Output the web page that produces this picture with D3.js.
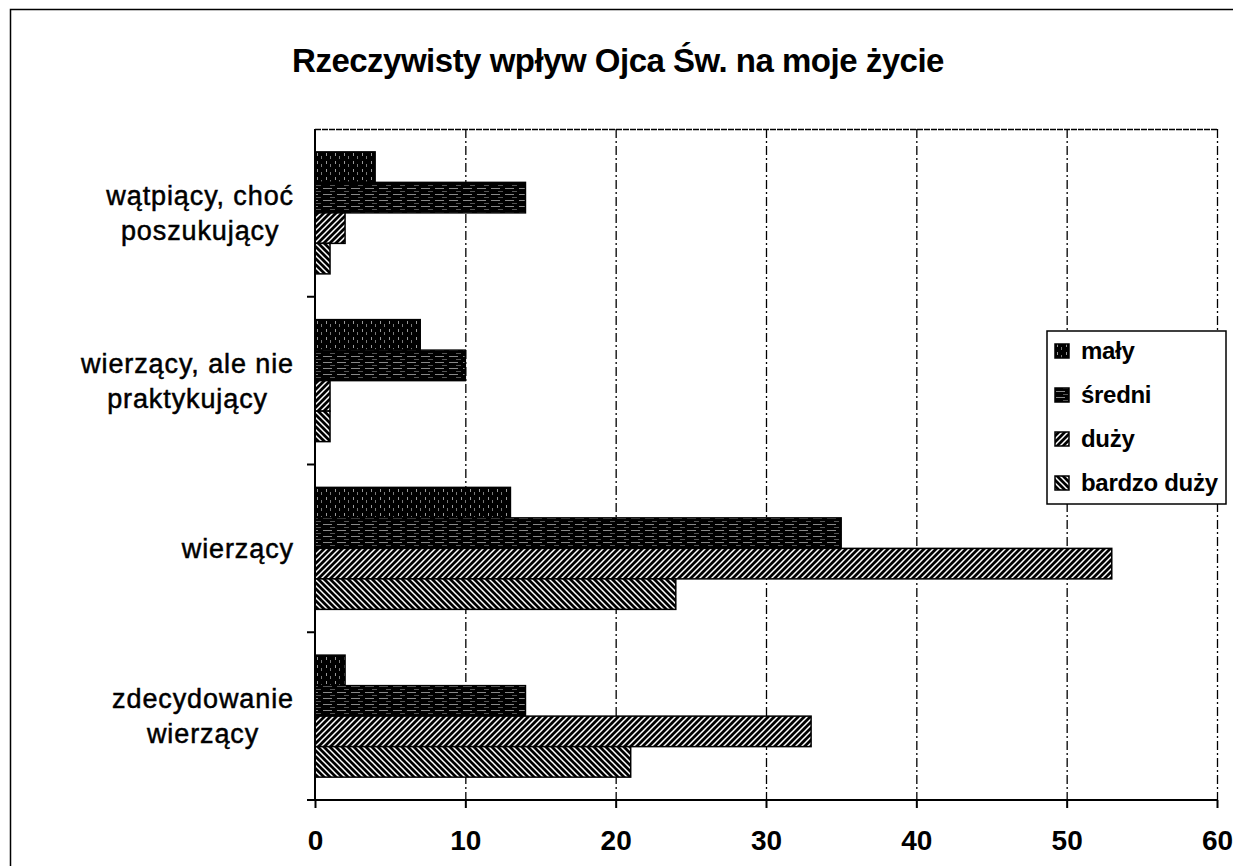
<!DOCTYPE html>
<html>
<head>
<meta charset="utf-8">
<script src="https://cdn.jsdelivr.net/npm/d3@7"></script>
<style>
  html, body { margin: 0; background: #fff; overflow: hidden; }
  svg { display: block; }
  text { font-family: "Liberation Sans", Arial, sans-serif; fill: #000; }
</style>
</head>
<body>
<svg id="chart" width="1233" height="866"></svg>
<script>
// data
var categories = ["wątpiący, choć poszukujący", "wierzący, ale nie praktykujący", "wierzący", "zdecydowanie wierzący"];
var categoryLines = [["wątpiący, choć", "poszukujący"], ["wierzący, ale nie", "praktykujący"], ["wierzący"], ["zdecydowanie", "wierzący"]];
var seriesNames = ["mały", "średni", "duży", "bardzo duży"];
var maly = [4, 7, 13, 2];
var sredni = [14, 10, 35, 14];
var duzy = [2, 1, 53, 33];
var bardzoDuzy = [1, 1, 24, 21];
var xTicks = [0, 10, 20, 30, 40, 50, 60];
var title = "Rzeczywisty wpływ Ojca Św. na moje życie";

var allSeries = [maly, sredni, duzy, bardzoDuzy];
var rows = [];
categories.forEach(function(c, i) {
  seriesNames.forEach(function(s, j) {
    rows.push({cat: c, series: s, idx: j, value: allSeries[j][i]});
  });
});

var svg = d3.select("#chart");
var margin = {left: 315, right: 1217, top: 129, bottom: 800};

// outer chart border: only top and left edges are inside the picture
svg.append("path")
  .attr("d", "M10.5,866V9.5H1233")
  .attr("fill", "none").attr("stroke", "#000").attr("stroke-width", 1.5);

// patterns
var defs = svg.append("defs");

var pMaly = defs.append("pattern").attr("id", "p-maly")
  .attr("patternUnits", "userSpaceOnUse").attr("width", 9).attr("height", 8);
pMaly.append("rect").attr("width", 9).attr("height", 8).attr("fill", "#000");
pMaly.append("rect").attr("x", 2).attr("y", 1).attr("width", 1).attr("height", 3).attr("fill", "#999");
pMaly.append("rect").attr("x", 6).attr("y", 4).attr("width", 1).attr("height", 3).attr("fill", "#777");

var pSredni = defs.append("pattern").attr("id", "p-sredni")
  .attr("patternUnits", "userSpaceOnUse").attr("width", 14).attr("height", 6);
pSredni.append("rect").attr("width", 14).attr("height", 6).attr("fill", "#000");
pSredni.append("rect").attr("x", 1).attr("y", 2).attr("width", 9).attr("height", 1).attr("fill", "#888");
pSredni.append("rect").attr("x", 8).attr("y", 5).attr("width", 5).attr("height", 1).attr("fill", "#555");

var pDuzy = defs.append("pattern").attr("id", "p-duzy")
  .attr("patternUnits", "userSpaceOnUse").attr("width", 6).attr("height", 6);
pDuzy.append("rect").attr("width", 6).attr("height", 6).attr("fill", "#000");
pDuzy.append("path").attr("d", "M-1,7 L7,-1 M-4,4 L4,-4 M2,10 L10,2")
  .attr("stroke", "#fff").attr("stroke-width", 1.5);

var pBardzo = defs.append("pattern").attr("id", "p-bardzo")
  .attr("patternUnits", "userSpaceOnUse").attr("width", 6).attr("height", 6);
pBardzo.append("rect").attr("width", 6).attr("height", 6).attr("fill", "#000");
pBardzo.append("path").attr("d", "M-1,-1 L7,7 M-4,2 L4,10 M2,-4 L10,4")
  .attr("stroke", "#fff").attr("stroke-width", 1.5);

var fills = ["url(#p-maly)", "url(#p-sredni)", "url(#p-duzy)", "url(#p-bardzo)"];

// scales
var x = d3.scaleLinear().domain([0, 60]).range([margin.left, margin.right]);
var y0 = d3.scaleBand().domain(categories).range([margin.top, margin.bottom])
  .paddingInner(1.5 / 5.5).paddingOuter(0.75 / 5.5);
var y1 = d3.scaleBand().domain(seriesNames).range([0, y0.bandwidth()]);
var band = (margin.bottom - margin.top) / categories.length;

// gridlines
var grid = svg.append("g");
xTicks.slice(1).forEach(function(t) {
  grid.append("line")
    .attr("x1", x(t) + 0.5).attr("x2", x(t) + 0.5)
    .attr("y1", margin.top).attr("y2", margin.bottom)
    .attr("stroke", "#000").attr("stroke-width", 1.3)
    .attr("stroke-dasharray", "9,3,2,3");
});
grid.append("line")
  .attr("x1", margin.left).attr("x2", margin.right)
  .attr("y1", margin.top + 0.5).attr("y2", margin.top + 0.5)
  .attr("stroke", "#000").attr("stroke-width", 1.5)
  .attr("stroke-dasharray", "6,1");

// bars
svg.append("g").selectAll("rect")
  .data(rows)
  .enter().append("rect")
    .attr("x", x(0))
    .attr("y", function(d) { return y0(d.cat) + y1(d.series); })
    .attr("width", function(d) { return x(d.value) - x(0); })
    .attr("height", y1.bandwidth())
    .attr("fill", function(d) { return fills[d.idx]; })
    .attr("stroke", "#000")
    .attr("stroke-width", 1.5);

// x axis
var xAxis = d3.axisBottom(x).tickValues(xTicks).tickSizeInner(8).tickSizeOuter(0).tickPadding(22);
var gx = svg.append("g")
  .attr("transform", "translate(0," + margin.bottom + ")")
  .call(xAxis);
gx.select(".domain").attr("stroke", "#000").attr("stroke-width", 2)
  .attr("d", "M" + (margin.left - 8) + ",0H" + margin.right);
gx.selectAll(".tick line").attr("stroke", "#000").attr("stroke-width", 2).attr("y1", 0);
gx.selectAll(".tick text")
  .style("font-family", "'Liberation Sans', Arial, sans-serif")
  .style("font-size", "28px").style("font-weight", "bold");

// y axis with ticks at category boundaries
var yAxisG = svg.append("g");
yAxisG.append("line")
  .attr("x1", margin.left).attr("x2", margin.left)
  .attr("y1", margin.top).attr("y2", margin.bottom)
  .attr("stroke", "#000").attr("stroke-width", 2);
yAxisG.selectAll(".ytick")
  .data(categories)
  .enter().append("line")
    .attr("x1", margin.left - 8).attr("x2", margin.left)
    .attr("y1", function(d) { return y0(d) - y0.step() * y0.paddingOuter() + band; })
    .attr("y2", function(d) { return y0(d) - y0.step() * y0.paddingOuter() + band; })
    .attr("stroke", "#000").attr("stroke-width", 2);

// category labels: block right aligned, lines centred in block
var labelRight = 294;
var lineH = 35;
categories.forEach(function(c, i) {
  var lines = categoryLines[i];
  var cy = y0(c) + y0.bandwidth() / 2;
  var g = svg.append("g");
  var texts = lines.map(function(l, k) {
    return g.append("text")
      .attr("y", cy + (k - (lines.length - 1) / 2) * lineH)
      .attr("dy", "0.35em")
      .attr("text-anchor", "middle")
      .style("font-size", "27px")
      .style("letter-spacing", "0.9px")
      .style("stroke", "#000").style("stroke-width", "0.5px")
      .text(l);
  });
  var maxW = d3.max(texts, function(t) { return t.node().getComputedTextLength(); });
  texts.forEach(function(t) { t.attr("x", labelRight - maxW / 2); });
});

// title
svg.append("text")
  .attr("x", 618).attr("y", 72)
  .attr("text-anchor", "middle")
  .style("font-size", "33px").style("font-weight", "bold")
  .style("letter-spacing", "-0.5px")
  .text(title);

// legend
var legend = svg.append("g");
legend.append("rect")
  .attr("x", 1047).attr("y", 331)
  .attr("width", 179).attr("height", 173)
  .attr("fill", "#fff").attr("stroke", "#000").attr("stroke-width", 1.5);
var items = legend.selectAll(".item")
  .data(seriesNames)
  .enter().append("g")
    .attr("transform", function(d, i) { return "translate(1055," + (351 + i * 44) + ")"; });
items.append("rect")
  .attr("x", 0).attr("y", -7).attr("width", 14).attr("height", 14)
  .attr("fill", function(d, i) { return fills[i]; })
  .attr("stroke", "#000").attr("stroke-width", 1.5);
items.append("text")
  .attr("x", 26).attr("dy", "0.35em")
  .style("font-size", "24px").style("font-weight", "bold")
  .style("letter-spacing", "-0.3px")
  .text(function(d) { return d; });
</script>
</body>
</html>
